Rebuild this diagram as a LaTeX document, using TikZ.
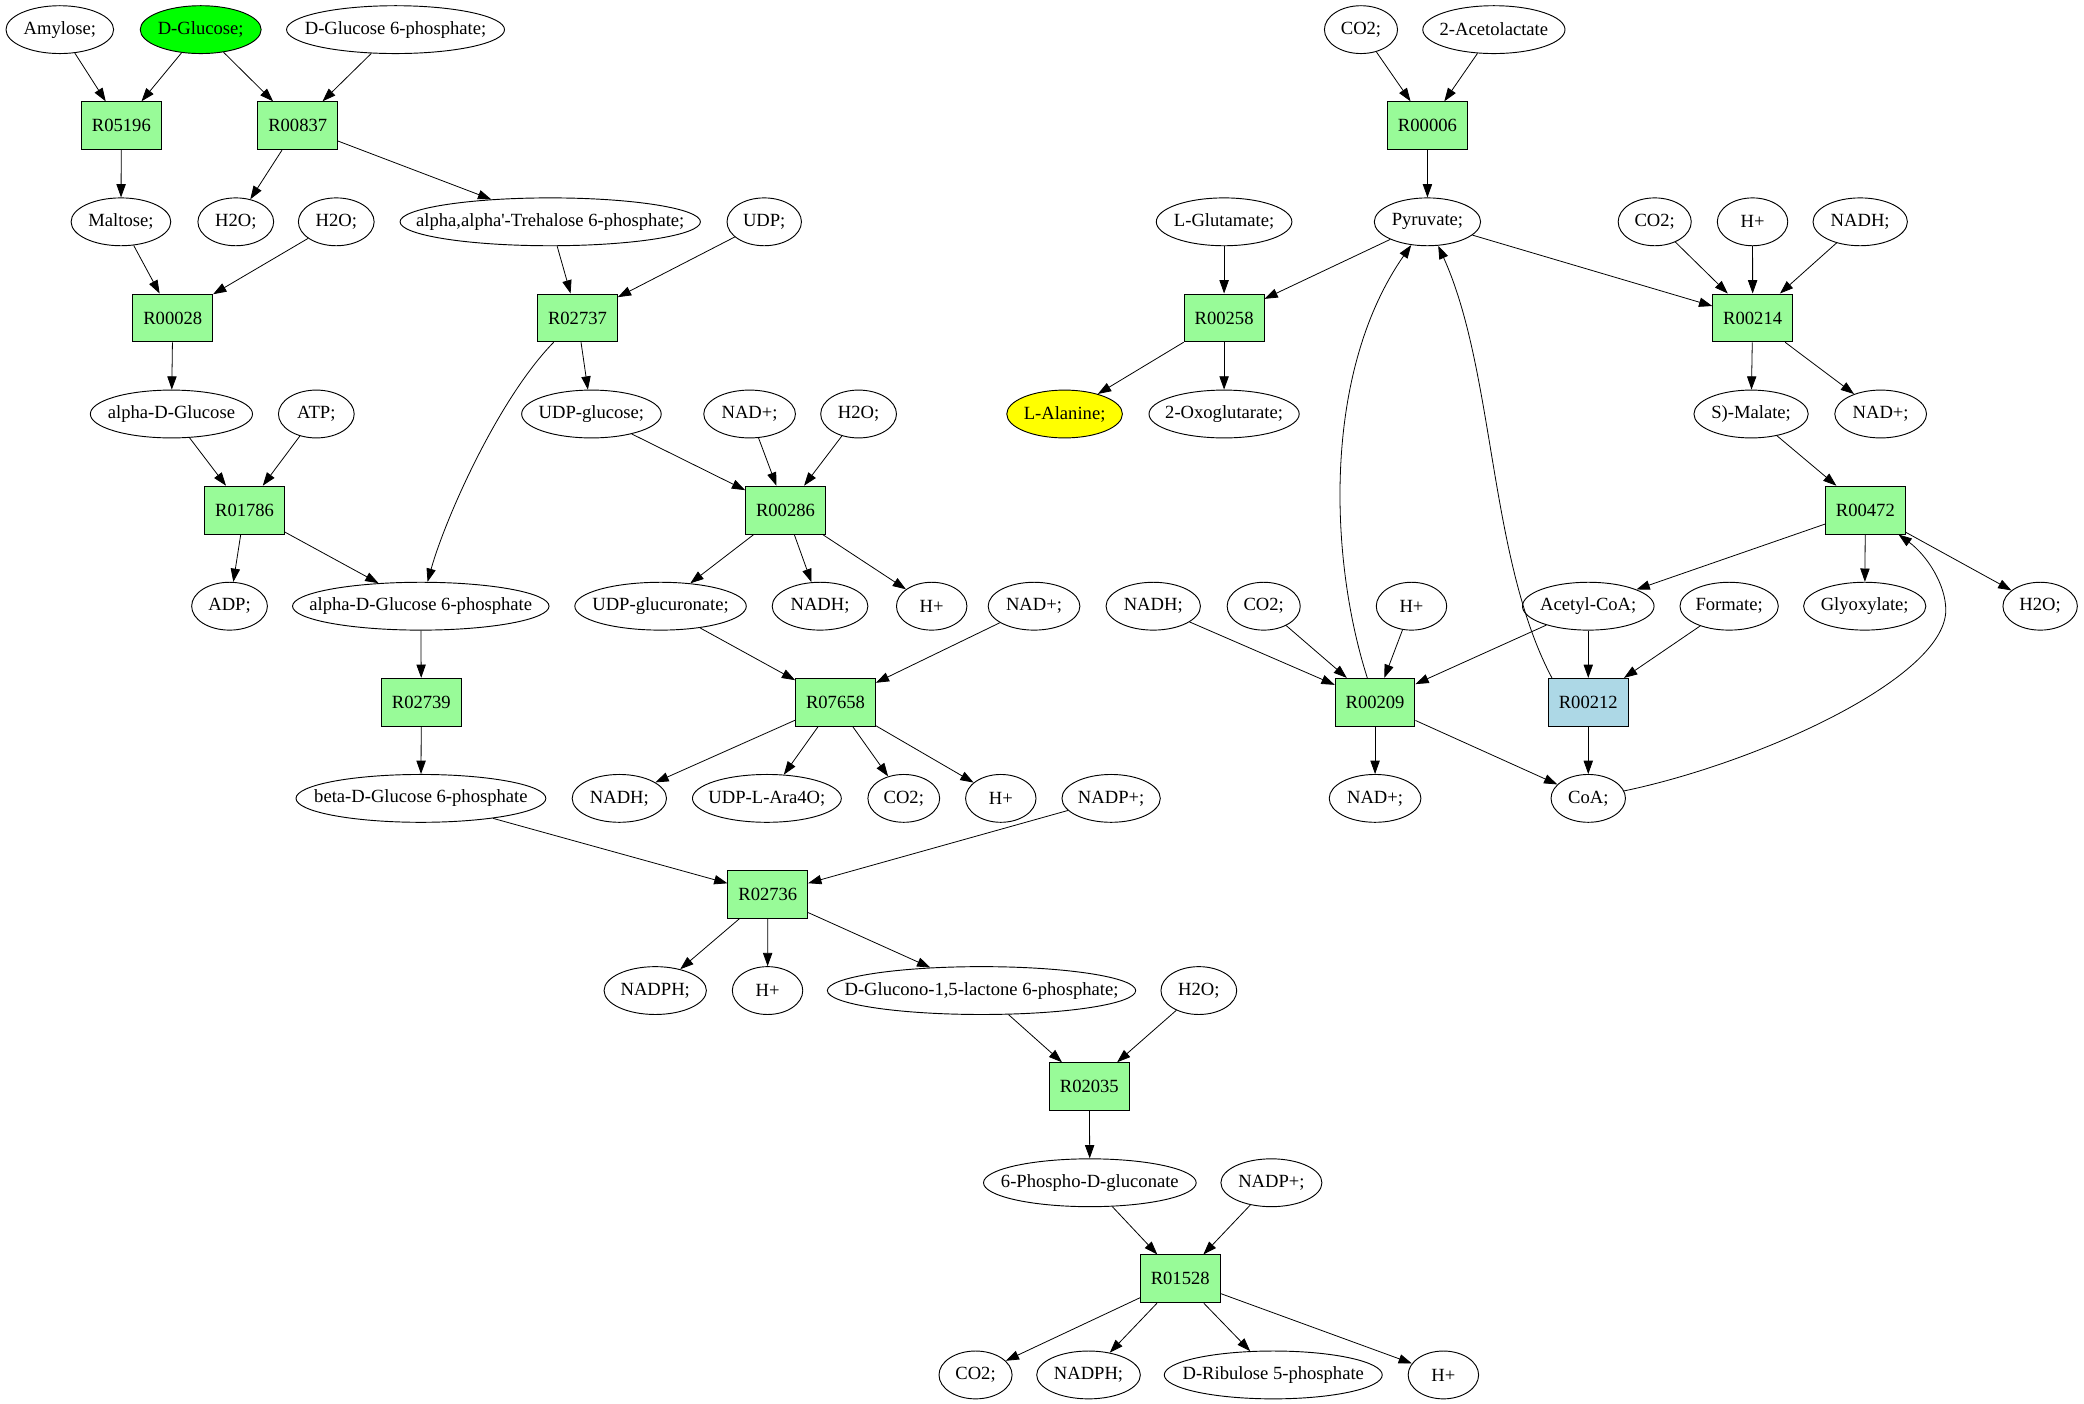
\documentclass[tikz,border=0pt]{standalone}
\usepackage{fontspec}
\setmainfont{Liberation Serif}
\usetikzlibrary{shapes.geometric,arrows.meta}
\definecolor{boxgreen}{HTML}{98FB98}
\definecolor{lblue}{HTML}{ADD8E6}
\definecolor{brightgreen}{HTML}{00FF00}
\definecolor{brightyellow}{HTML}{FFFF00}
\tikzset{
  met/.style={ellipse, draw, line width=0.7pt, minimum height=36pt, inner sep=0pt, font=\fontsize{14}{16}\selectfont},
  rxn/.style={rectangle, draw, line width=0.7pt, fill=boxgreen, minimum width=60pt, minimum height=36pt, inner sep=0pt, font=\fontsize{14}{16}\selectfont},
  arr/.style={-{Triangle[length=10pt,width=7pt]}, line width=0.6pt}
}
\newcommand\Met[5][]{\node[met,minimum width=#4pt,#1] (#2) at #3 {\makebox[0pt]{#5}};}
\newcommand\Rx[3][]{\node[rxn,#1] (#2) at #3 {#2};}
\begin{document}
\begin{tikzpicture}[x=1pt,y=-1pt]
\useasboundingbox[fill=white] (0,0) rectangle (1568,1056);
% row 0
\Met{amy}{(45,22.3)}{81}{Amylose;}
\Met[fill=brightgreen]{dglc}{(151,22.3)}{91}{D-Glucose;}
\Met{dgsp}{(297.6,22.3)}{164}{D-Glucose 6-phosphate;}
\Met{co2a}{(1024,22.3)}{55}{CO2;}
\Met{acl}{(1124,22.3)}{107}{2-Acetolactate}
% row 1
\Rx{R05196}{(91.3,94.6)}
\Rx{R00837}{(224,94.6)}
\Rx{R00006}{(1074,94.6)}
% row 2
\Met{malt}{(91,166.9)}{75}{Maltose;}
\Met{h2oa}{(177.4,166.9)}{57}{H2O;}
\Met{h2ob}{(253,166.9)}{57}{H2O;}
\Met{treh}{(414,166.9)}{226}{alpha,alpha\textquotesingle-Trehalose 6-phosphate;}
\Met{udp}{(575,166.9)}{56}{UDP;}
\Met{glu}{(921,166.9)}{102}{L-Glutamate;}
\Met{pyr}{(1074,166.9)}{80}{Pyruvate;}
\Met{co2b}{(1245,166.9)}{55}{CO2;}
\Met{hpa}{(1318.6,166.9)}{53}{H+}
\Met{nadha}{(1399.6,166.9)}{71}{NADH;}
% row 3
\Rx{R00028}{(130,239.2)}
\Rx{R02737}{(434.5,239.2)}
\Rx{R00258}{(921,239.2)}
\Rx{R00214}{(1318.7,239.2)}
% row 4
\Met{adglc}{(129,311.5)}{122}{alpha-D-Glucose}
\Met{atp}{(238,311.5)}{57}{ATP;}
\Met{udpg}{(445,311.5)}{105}{UDP-glucose;}
\Met{nada}{(564,311.5)}{69}{NAD+;}
\Met{h2oc}{(646,311.5)}{57}{H2O;}
\Met[fill=brightyellow]{ala}{(801,311.5)}{87}{L-Alanine;}
\Met{oxo}{(921,311.5)}{113}{2-Oxoglutarate;}
\Met{mal}{(1317.5,311.5)}{86}{S)-Malate;}
\Met{nadb}{(1415,311.5)}{69}{NAD+;}
% row 5
\Rx{R01786}{(184,383.8)}
\Rx{R00286}{(591,383.8)}
\Rx{R00472}{(1403.5,383.8)}
% row 6
\Met{adp}{(172.7,456.1)}{57}{ADP;}
\Met{adgsp}{(316.6,456.1)}{193}{alpha-D-Glucose 6-phosphate}
\Met{udpgu}{(497,456.1)}{129}{UDP-glucuronate;}
\Met{nadhb}{(617,456.1)}{72}{NADH;}
\Met{hpb}{(701,456.1)}{53}{H+}
\Met{nadc}{(778,456.1)}{69}{NAD+;}
\Met{nadhc}{(867.7,456.1)}{71}{NADH;}
\Met{co2c}{(950.8,456.1)}{55}{CO2;}
\Met{hpc}{(1062,456.1)}{53}{H+}
\Met{acoa}{(1195,456.1)}{99}{Acetyl-CoA;}
\Met{form}{(1301,456.1)}{74}{Formate;}
\Met{glyox}{(1403,456.1)}{92}{Glyoxylate;}
\Met{h2od}{(1535,456.1)}{56}{H2O;}
% row 7
\Rx{R02739}{(317,528.4)}
\Rx{R07658}{(628.6,528.4)}
\Rx{R00209}{(1034.6,528.4)}
\Rx[fill=lblue]{R00212}{(1195,528.4)}
% row 8
\Met{bdgsp}{(316.7,600.7)}{188}{beta-D-Glucose 6-phosphate}
\Met{nadhd}{(466,600.7)}{71}{NADH;}
\Met{ara}{(577,600.7)}{112}{UDP-L-Ara4O;}
\Met{co2d}{(680,600.7)}{54}{CO2;}
\Met{hpd}{(753,600.7)}{53}{H+}
\Met{nadpa}{(836,600.7)}{74}{NADP+;}
\Met{nadd}{(1034.6,600.7)}{69}{NAD+;}
\Met{coa}{(1195,600.7)}{56}{CoA;}
% row 9
\Rx{R02736}{(577.7,673)}
% row 10
\Met{nadpha}{(493,745.3)}{77}{NADPH;}
\Met{hpe}{(577.5,745.3)}{53}{H+}
\Met{dgl}{(738.5,745.3)}{232}{D-Glucono-1,5-lactone 6-phosphate;}
\Met{h2oe}{(902,745.3)}{57}{H2O;}
% row 11
\Rx{R02035}{(819.6,817.6)}
% row 12
\Met{pg}{(820,889.9)}{160}{6-Phospho-D-gluconate}
\Met{nadpb}{(956.6,889.9)}{76}{NADP+;}
% row 13
\Rx{R01528}{(888,962.2)}
% row 14
\Met{co2e}{(734,1034.5)}{55}{CO2;}
\Met{nadphb}{(819,1034.5)}{78}{NADPH;}
\Met{ruvp}{(958,1034.5)}{164}{D-Ribulose 5-phosphate}
\Met{hpf}{(1086,1034.5)}{53}{H+}
% edges left
\draw[arr] (amy) -- (R05196);
\draw[arr] (dglc) -- (R05196);
\draw[arr] (dglc) -- (R00837);
\draw[arr] (dgsp) -- (R00837);
\draw[arr] (R05196) -- (malt);
\draw[arr] (R00837) -- (h2oa);
\draw[arr] (R00837) -- (treh);
\draw[arr] (malt) -- (R00028);
\draw[arr] (h2ob) -- (R00028);
\draw[arr] (treh) -- (R02737);
\draw[arr] (udp) -- (R02737);
\draw[arr] (R00028) -- (adglc);
\draw[arr] (R02737) -- (udpg);
\draw[arr] (R02737) .. controls (375,300) and (335,390) .. (adgsp);
\draw[arr] (adglc) -- (R01786);
\draw[arr] (atp) -- (R01786);
\draw[arr] (R01786) -- (adp);
\draw[arr] (R01786) -- (adgsp);
\draw[arr] (udpg) -- (R00286);
\draw[arr] (nada) -- (R00286);
\draw[arr] (h2oc) -- (R00286);
\draw[arr] (R00286) -- (udpgu);
\draw[arr] (R00286) -- (nadhb);
\draw[arr] (R00286) -- (hpb);
\draw[arr] (adgsp) -- (R02739);
\draw[arr] (udpgu) -- (R07658);
\draw[arr] (nadc) -- (R07658);
\draw[arr] (R02739) -- (bdgsp);
\draw[arr] (R07658) -- (nadhd);
\draw[arr] (R07658) -- (ara);
\draw[arr] (R07658) -- (co2d);
\draw[arr] (R07658) -- (hpd);
\draw[arr] (bdgsp) -- (R02736);
\draw[arr] (nadpa) -- (R02736);
\draw[arr] (R02736) -- (nadpha);
\draw[arr] (R02736) -- (hpe);
\draw[arr] (R02736) -- (dgl);
\draw[arr] (dgl) -- (R02035);
\draw[arr] (h2oe) -- (R02035);
\draw[arr] (R02035) -- (pg);
\draw[arr] (pg) -- (R01528);
\draw[arr] (nadpb) -- (R01528);
\draw[arr] (R01528) -- (co2e);
\draw[arr] (R01528) -- (nadphb);
\draw[arr] (R01528) -- (ruvp);
\draw[arr] (R01528) -- (hpf);
% edges right
\draw[arr] (co2a) -- (R00006);
\draw[arr] (acl) -- (R00006);
\draw[arr] (R00006) -- (pyr);
\draw[arr] (glu) -- (R00258);
\draw[arr] (pyr) -- (R00258);
\draw[arr] (pyr) -- (R00214);
\draw[arr] (co2b) -- (R00214);
\draw[arr] (hpa) -- (R00214);
\draw[arr] (nadha) -- (R00214);
\draw[arr] (R00258) -- (ala);
\draw[arr] (R00258) -- (oxo);
\draw[arr] (R00214) -- (mal);
\draw[arr] (R00214) -- (nadb);
\draw[arr] (mal) -- (R00472);
\draw[arr] (R00472) -- (acoa);
\draw[arr] (R00472) -- (glyox);
\draw[arr] (R00472) -- (h2od);
\draw[arr] (nadhc) -- (R00209);
\draw[arr] (co2c) -- (R00209);
\draw[arr] (hpc) -- (R00209);
\draw[arr] (acoa) -- (R00209);
\draw[arr] (acoa) -- (R00212);
\draw[arr] (form) -- (R00212);
\draw[arr] (R00209) .. controls (1000,420) and (995,280) .. (pyr);
\draw[arr] ([xshift=3pt]R00212.north west) .. controls (1120,420) and (1125,280) .. (pyr);
\draw[arr] (R00209) -- (nadd);
\draw[arr] (R00209) -- (coa);
\draw[arr] (R00212) -- (coa);
\draw[arr] (coa) .. controls (1323,574) and (1464,510) .. (1464,459) .. controls (1464,440) and (1450,418) .. (R00472);
\end{tikzpicture}
\end{document}
